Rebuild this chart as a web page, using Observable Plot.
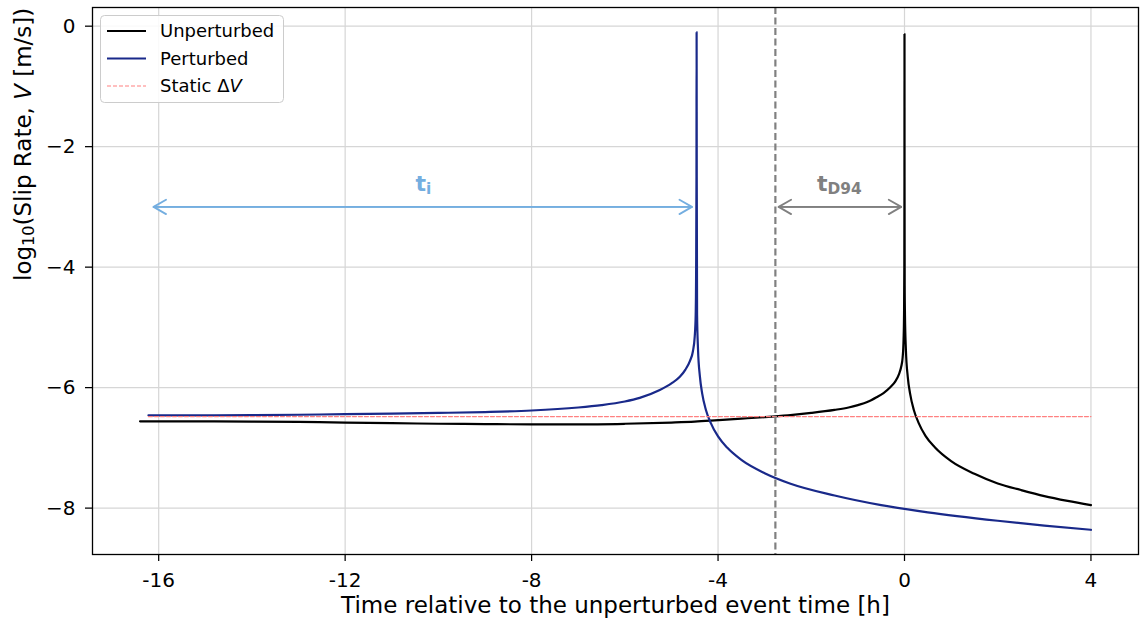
<!DOCTYPE html>
<html><head><meta charset="utf-8">
<script src="https://cdn.jsdelivr.net/npm/d3@7"></script>
<script src="https://cdn.jsdelivr.net/npm/@observablehq/plot@0.6"></script>
<style>
body{margin:0;background:#fff;}
#wrap{width:1140px;height:622px;}
</style></head>
<body><div id="wrap"></div>
<script>
// Unperturbed series (time [h], log10 V)
const unpT = [-16.4,-15,-14,-13,-12,-11,-10,-9,-8,-7,-6,-5,-4.5,-4,-3.5,-3,-2.5,-2,-1.5,-1.2,-1,-0.8,-0.6,-0.45,-0.3,-0.2,-0.12,-0.07,-0.04,-0.02,-0.01,-0.004,-0.001,0,0.001,0.004,0.01,0.03,0.07,0.12,0.2,0.3,0.45,0.65,1,1.5,2,2.5,3,3.5,4];
const unpV = [-6.56,-6.56,-6.565,-6.57,-6.58,-6.59,-6.60,-6.605,-6.61,-6.61,-6.60,-6.58,-6.565,-6.54,-6.515,-6.49,-6.46,-6.42,-6.37,-6.33,-6.29,-6.24,-6.16,-6.09,-5.99,-5.9,-5.78,-5.65,-5.5,-5.2,-4.8,-4.0,-2.5,-0.13,-2.5,-4.3,-4.79,-5.37,-5.82,-6.10,-6.37,-6.58,-6.80,-6.99,-7.22,-7.43,-7.59,-7.70,-7.80,-7.88,-7.95];
// Perturbed series
const perT = [-16.22,-15,-14,-13,-12,-11,-10,-9,-8,-7,-6.5,-6,-5.68,-5.25,-5,-4.82,-4.7,-4.6,-4.54,-4.5,-4.48,-4.47,-4.463,-4.46,-4.457,-4.45,-4.43,-4.39,-4.34,-4.26,-4.16,-4.0,-3.8,-3.5,-3.0,-2.46,-1.5,-0.5,0.5,2.0,3.0,4];
const perV = [-6.46,-6.46,-6.455,-6.45,-6.44,-6.43,-6.42,-6.405,-6.38,-6.33,-6.29,-6.23,-6.17,-6.04,-5.93,-5.82,-5.7,-5.55,-5.4,-5.15,-4.8,-4.0,-2.5,-0.1,-2.5,-4.78,-5.36,-5.81,-6.10,-6.37,-6.58,-6.81,-7.0,-7.20,-7.42,-7.59,-7.79,-7.95,-8.07,-8.21,-8.29,-8.36];
// Static ΔV level
const staticLevel = -6.48;
const staticSpan = [-16.22, 4];
// D94 time marker
const tD94Marker = -2.77;
// annotation arrows
const arrowTi = {x1: -16.11, x2: -4.56, y: -3};
const arrowD94 = {x1: -2.70, x2: -0.07, y: -3};
const labelTi = {x: -10.32, y: -2.62, text: "t_i"};
const labelD94 = {x: -1.40, y: -2.62, text: "t_D94"};
// ticks
const xTicks = [-16,-12,-8,-4,0,4];
const yTicks = [0,-2,-4,-6,-8];
const xLabel = "Time relative to the unperturbed event time [h]";
const yLabel = "log10(Slip Rate, V [m/s])";
const legendNames = ["Unperturbed","Perturbed","Static ΔV"];

const cBlack = "#000000", cBlue = "#19298a", cRed = "#ff8080", cGray = "#808080", cLight = "#74aee0";

const unp = unpT.map((t,i)=>({t, v: unpV[i]}));
const per = perT.map((t,i)=>({t, v: perV[i]}));
const stat = staticSpan.map(t=>({t, v: staticLevel}));
const arrows1 = [{x1:arrowTi.x1,x2:arrowTi.x2,y:arrowTi.y},{x1:arrowTi.x2,x2:arrowTi.x1,y:arrowTi.y}];
const arrows2 = [{x1:arrowD94.x1,x2:arrowD94.x2,y:arrowD94.y},{x1:arrowD94.x2,x2:arrowD94.x1,y:arrowD94.y}];

const chart = Plot.plot({
  width: 1140, height: 622,
  marginLeft: 92, marginRight: 2, marginTop: 7, marginBottom: 68,
  style: {fontFamily: "DejaVu Sans", fontSize: "20px", color: "black", background: "white"},
  x: {domain: [-17.42, 5.02]},
  y: {domain: [-8.77, 0.31]},
  marks: [
    Plot.gridX(xTicks, {stroke: "#d6d6d6", strokeOpacity: 1, strokeWidth: 1.2}),
    Plot.gridY(yTicks, {stroke: "#d6d6d6", strokeOpacity: 1, strokeWidth: 1.2}),
    Plot.line(unp, {x: "t", y: "v", stroke: cBlack, strokeWidth: 2.2, curve: "monotone-x"}),
    Plot.line(per, {x: "t", y: "v", stroke: cBlue, strokeWidth: 2.2, curve: "monotone-x"}),
    Plot.line(stat, {x: "t", y: "v", stroke: cRed, strokeWidth: 1.2, strokeDasharray: "4,2"}),
    Plot.ruleX([tD94Marker], {stroke: cGray, strokeWidth: 2.2, strokeDasharray: "7,3.5"}),
    Plot.arrow(arrows1, {x1: "x1", x2: "x2", y1: "y", y2: "y", stroke: cLight, strokeWidth: 1.8, headLength: 12, bend: 0}),
    Plot.arrow(arrows2, {x1: "x1", x2: "x2", y1: "y", y2: "y", stroke: cGray, strokeWidth: 1.8, headLength: 12, bend: 0}),
    Plot.text([labelTi], {x: "x", y: "y", text: "text", fill: cLight, fontWeight: "bold", fontSize: 22}),
    Plot.text([labelD94], {x: "x", y: "y", text: "text", fill: cGray, fontWeight: "bold", fontSize: 22}),
    Plot.axisX(xTicks, {tickSize: 7, tickPadding: 11, tickFormat: d => String(d), label: null, strokeWidth: 1.25}),
    Plot.axisY(yTicks, {tickSize: 7, tickPadding: 10, tickFormat: d => d === 0 ? "0" : "\u2212" + Math.abs(d), label: null, strokeWidth: 1.25}),
    Plot.text([xLabel], {frameAnchor: "bottom", dy: 58, fontSize: 23}),
    Plot.text([yLabel], {frameAnchor: "left", dx: -69, rotate: -90, fontSize: 23}),
    Plot.frame({stroke: "black", strokeWidth: 1.3})
  ]
});
document.getElementById("wrap").appendChild(chart);

const NS = "http://www.w3.org/2000/svg";
function rich(key, parts) {
  chart.querySelectorAll("text").forEach(el => {
    if (el.textContent === key) {
      while (el.firstChild) el.removeChild(el.firstChild);
      parts.forEach(p => {
        const ts = document.createElementNS(NS, "tspan");
        ts.textContent = p.t;
        if (p.sub) { ts.setAttribute("font-size", "70%"); ts.setAttribute("baseline-shift", "-18%"); }
        if (p.it) ts.setAttribute("font-style", "italic");
        el.appendChild(ts);
      });
    }
  });
}
rich("t_i", [{t: "t"}, {t: "i", sub: true}]);
rich("t_D94", [{t: "t"}, {t: "D94", sub: true}]);
rich(yLabel, [{t: "log"}, {t: "10", sub: true}, {t: "(Slip Rate, "}, {t: "V", it: true}, {t: " [m/s])"}]);

// legend box inside the plot area
const svg = d3.select(chart);
const lg = svg.append("g").attr("font-family", "DejaVu Sans").attr("font-size", 18).attr("text-anchor", "start");
lg.append("rect").attr("x", 100.5).attr("y", 15.5).attr("width", 183).attr("height", 87).attr("rx", 4)
  .attr("fill", "white").attr("fill-opacity", 0.85).attr("stroke", "#cccccc");
const lgStyles = [
  {stroke: cBlack, w: 2.2, dash: null},
  {stroke: cBlue, w: 2.2, dash: null},
  {stroke: cRed, w: 1.2, dash: "4,2"}
];
legendNames.forEach((name, i) => {
  const yy = 31 + i * 27.5;
  const s = lgStyles[i];
  const ln = lg.append("line").attr("x1", 107).attr("x2", 146).attr("y1", yy).attr("y2", yy)
    .attr("stroke", s.stroke).attr("stroke-width", s.w);
  if (s.dash) ln.attr("stroke-dasharray", s.dash);
  const tx = lg.append("text").attr("x", 160).attr("y", yy).attr("dy", "0.35em").attr("text-anchor", "start");
  if (name === "Static ΔV") {
    tx.append("tspan").text("Static Δ");
    tx.append("tspan").attr("font-style", "italic").text("V");
  } else tx.text(name);
});
</script>
</body></html>
